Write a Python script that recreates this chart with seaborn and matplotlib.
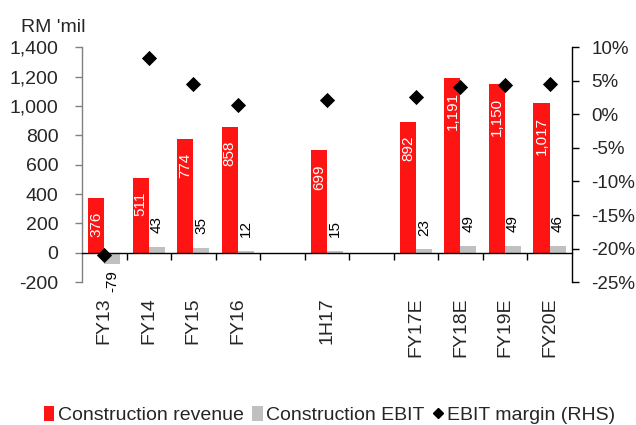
import matplotlib
matplotlib.use("Agg")
import matplotlib.pyplot as plt
from matplotlib.patches import Patch
from matplotlib.lines import Line2D
from matplotlib.ticker import FuncFormatter, FixedLocator
import seaborn as sns
import pandas as pd
import numpy as np

# Category slots (blank slots separate actuals, half-year and forecasts)
slots = ["FY13", "FY14", "FY15", "FY16", " ", "1H17", "  ", "FY17E", "FY18E", "FY19E", "FY20E"]
periods = ["FY13", "FY14", "FY15", "FY16", "1H17", "FY17E", "FY18E", "FY19E", "FY20E"]
revenue = [376, 511, 774, 858, 699, 892, 1191, 1150, 1017]
ebit = [-79, 43, 35, 12, 15, 23, 49, 49, 46]
margin = [-21.0, 8.4, 4.5, 1.4, 2.1, 2.6, 4.1, 4.3, 4.5]

RED = "#FF1414"
GREY = "#C0C0C0"

sns.set_theme(style="white")
plt.rcParams["font.family"] = ["Liberation Sans", "DejaVu Sans"]
plt.rcParams["axes.unicode_minus"] = False

df = pd.DataFrame({
    "period": periods * 2,
    "value": revenue + ebit,
    "series": ["Construction revenue"] * len(periods) + ["Construction EBIT"] * len(periods),
})

fig = plt.figure(figsize=(6.36, 4.25), dpi=100)
ax = fig.add_axes([0.129, 0.336, 0.770, 0.553])

sns.barplot(data=df, x="period", y="value", hue="series", order=slots,
            hue_order=["Construction revenue", "Construction EBIT"],
            palette=[RED, GREY], width=0.72, saturation=1, errorbar=None,
            linewidth=0, legend=False, ax=ax)

ax.set_ylim(-200, 1400)
ax.set_xlim(-0.5, len(slots) - 0.5)
ax.set_xlabel("")
ax.set_ylabel("")
ax.yaxis.set_major_locator(FixedLocator(np.arange(-200, 1401, 200)))
ax.yaxis.set_major_formatter(FuncFormatter(lambda v, p: f"{v:,.0f}"))

# Value labels on the bars
rev_bars, ebit_bars = ax.containers[0], ax.containers[1]
for bar in rev_bars:
    h = bar.get_height()
    if np.isnan(h):
        continue
    ax.annotate(f"{h:,.0f}", (bar.get_x() + bar.get_width() / 2, h),
                xytext=(0, -10), textcoords="offset points", rotation=90,
                ha="center", va="top", color="white", fontsize=11)
for bar in ebit_bars:
    h = bar.get_height()
    if np.isnan(h):
        continue
    if h >= 0:
        off, va = 10, "bottom"
    else:
        off, va = -4, "top"
    ax.annotate(f"{h:,.0f}", (bar.get_x() + bar.get_width() / 2, h),
                xytext=(0, off), textcoords="offset points", rotation=90,
                ha="center", va=va, color="black", fontsize=11)

# Zero line with slot-boundary ticks; category names sit below the plot
for s in ["top", "right"]:
    ax.spines[s].set_visible(False)
ax.spines["bottom"].set_position(("data", 0))
ax.spines["bottom"].set_color("black")
ax.spines["bottom"].set_linewidth(1.0)
ax.spines["left"].set_color("#808080")
ax.spines["left"].set_linewidth(1.0)
ax.xaxis.set_major_locator(FixedLocator(np.arange(0.5, len(slots) - 1, 1.0)))
ax.xaxis.set_minor_locator(FixedLocator(np.arange(len(slots))))
ax.set_xticklabels([], minor=False)
ax.set_xticklabels(slots, minor=True, rotation=90, fontsize=14)
ax.tick_params(axis="x", which="major", direction="out", length=5, width=1, color="black", bottom=True)
ax.tick_params(axis="x", which="minor", length=0, pad=32, bottom=True)
ax.tick_params(axis="y", direction="out", length=5, width=1, color="#808080",
               left=True, labelsize=14, pad=12)

# EBIT margin on the right-hand scale
ax2 = ax.twinx()
xpos = [slots.index(p) for p in periods]
sns.scatterplot(x=xpos, y=margin, marker="D", s=60, color="black",
                edgecolor="black", linewidth=0, ax=ax2, legend=False, zorder=5)
ax2.set_ylim(-25, 10)
ax2.yaxis.set_major_locator(FixedLocator(np.arange(-25, 11, 5)))
ax2.yaxis.set_major_formatter(FuncFormatter(lambda v, p: f"{v:.0f}%"))
for s in ["top", "left", "bottom"]:
    ax2.spines[s].set_visible(False)
ax2.spines["right"].set_color("black")
ax2.spines["right"].set_linewidth(1.0)
ax2.tick_params(axis="y", direction="out", length=5, width=1, color="black",
                right=True, labelsize=13.5, pad=9)
ax2.set_xlim(ax.get_xlim())

fig.text(0.084, 0.925, "RM 'mil", fontsize=14, ha="center", va="baseline")

handles = [
    Patch(facecolor=RED, edgecolor="none", label="Construction revenue"),
    Patch(facecolor=GREY, edgecolor="none", label="Construction EBIT"),
    Line2D([], [], marker="D", color="black", linestyle="none", markersize=5,
           label="EBIT margin (RHS)"),
]
fig.legend(handles=handles, loc="lower center", bbox_to_anchor=(0.518, -0.03),
           ncol=3, frameon=False, fontsize=14, handlelength=0.55, handleheight=0.8,
           handletextpad=0.2, columnspacing=0.4, borderpad=0.2)

fig.savefig("out.png", dpi=100)
